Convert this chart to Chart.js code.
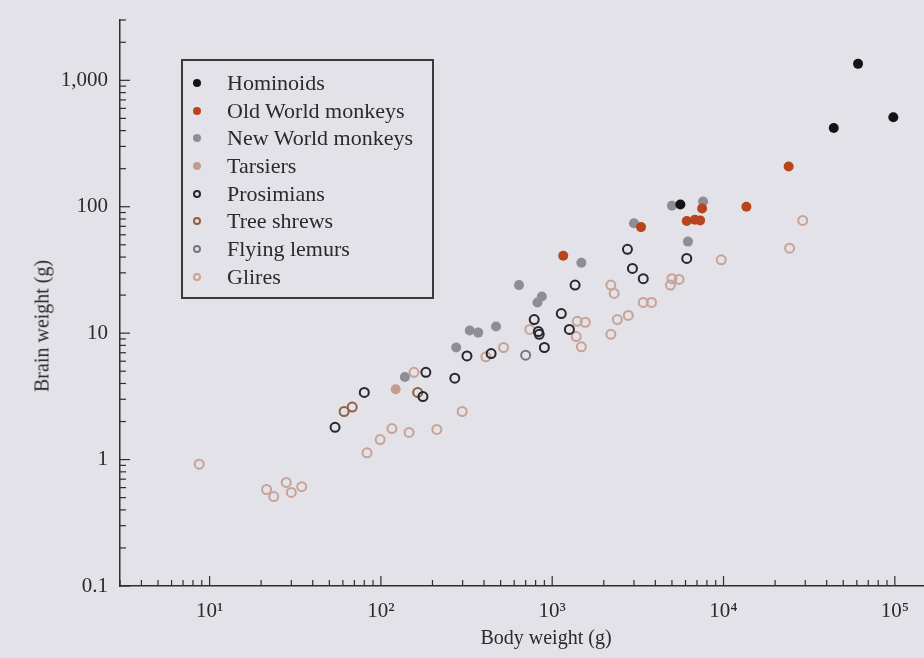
<!DOCTYPE html>
<html>
<head>
<meta charset="utf-8">
<script src="https://cdn.jsdelivr.net/npm/chart.js@4.4.1/dist/chart.umd.min.js"></script>
<style>
  body { margin: 0; background: #e3e2e9; overflow: hidden; }
  #wrap { position: relative; width: 924px; height: 658px; overflow: hidden; font-family: "Liberation Serif", serif; color: #2a2a2a; }
  #chartBox { position: absolute; left: 0; top: 0; width: 931px; height: 658px; }
  #legend { position: absolute; left: 181px; top: 59px; width: 253px; height: 240px; border: 2px solid #3a3a3a; box-sizing: border-box; padding-top: 8px; }
  .item { height: 27.7px; display: flex; align-items: center; font-size: 22px; }
  .dot { width: 8px; height: 8px; border-radius: 50%; margin-left: 10px; margin-right: 26px; box-sizing: border-box; flex: none; }
  .axtitle { position: absolute; font-size: 20px; white-space: nowrap; }
</style>
</head>
<body>
<div id="wrap">
  <div id="chartBox"><canvas id="brainChart"></canvas></div>
  <div id="legend"></div>
  <div class="axtitle" id="xTitle" style="left:546px; top:637px; transform:translate(-50%,-50%);">Body weight (g)</div>
  <div class="axtitle" id="yTitle" style="left:42px; top:326px; transform:translate(-50%,-50%) rotate(-90deg);">Brain weight (g)</div>
</div>
<script>
// [body weight g, brain weight g]
const hominoids = [[61000, 1350], [44000, 420], [98000, 510], [5600, 104]];
const oldWorld = [[24000, 208], [13600, 100], [6100, 77], [6800, 79], [7300, 78], [7500, 97], [3300, 69], [1160, 41]];
const newWorld = [[5000, 102], [7600, 110], [3000, 74], [6200, 53], [1480, 36], [640, 24], [870, 19.5], [820, 17.5],
  [470, 11.3], [330, 10.5], [370, 10.1], [275, 7.7], [138, 4.5]];
const tarsiers = [[122, 3.6]];
const prosimians = [[80, 3.4], [54, 1.8], [183, 4.9], [176, 3.15], [270, 4.4], [318, 6.6], [440, 6.9], [785, 12.8],
  [830, 10.3], [840, 9.8], [900, 7.7], [1130, 14.3], [1260, 10.7], [1360, 24], [2750, 46], [2940, 32.5], [3400, 27], [6100, 39]];
const treeShrews = [[68, 2.6], [61, 2.4], [164, 3.4]];
const flyingLemurs = [[700, 6.7]];
const glires = [[8.7, 0.92], [21.5, 0.58], [23.7, 0.51], [28, 0.66], [30, 0.55], [34.5, 0.61], [83, 1.13], [99, 1.44],
  [116, 1.76], [146, 1.64], [212, 1.73], [298, 2.4], [156, 4.9], [410, 6.5], [520, 7.7], [740, 10.7], [1400, 12.4],
  [1560, 12.2], [1380, 9.4], [1480, 7.8], [2200, 9.8], [2400, 12.8], [2780, 13.8], [2200, 24], [2300, 20.6], [3400, 17.5],
  [3800, 17.5], [5000, 27], [5500, 26.6], [4900, 24], [9700, 38], [24300, 47], [29000, 78]];

const groupNames = ['Hominoids', 'Old World monkeys', 'New World monkeys', 'Tarsiers', 'Prosimians', 'Tree shrews', 'Flying lemurs', 'Glires'];
const groupData = [hominoids, oldWorld, newWorld, tarsiers, prosimians, treeShrews, flyingLemurs, glires];
const groupColors = ['#141417', '#b8441c', '#8d8d95', '#c69b8f', '#26262c', '#8e6046', '#76767e', '#c6a395'];
const groupFilled = [true, true, true, true, false, false, false, false];

const xTickValues = [10, 100, 1000, 10000, 100000];
const xTickLabels = ['10\u00b9', '10\u00b2', '10\u00b3', '10\u2074', '10\u2075'];
const yTickValues = [0.1, 1, 10, 100, 1000];
const yTickLabels = ['0.1', '1', '10', '100', '1,000'];
const minorSteps = [2, 3, 4, 5, 6, 7, 8, 9];

const axisColor = '#2e2e2e';

// inward tick marks, as in the printed figure
const inwardTicks = {
  id: 'inwardTicks',
  afterDraw(chart) {
    const c = chart.ctx, area = chart.chartArea;
    const xs = chart.scales.x, ys = chart.scales.y;
    c.save();
    c.strokeStyle = axisColor;
    c.lineWidth = 1.2;
    function marks(scale, isX) {
      for (let d = -2; d <= 6; d++) {
        const base = Math.pow(10, d);
        [1].concat(minorSteps).forEach(m => {
          const v = m * base;
          if (v < scale.min * 0.999 || v > scale.max * 1.001) return;
          const p = scale.getPixelForValue(v);
          const len = m === 1 ? 10 : 6;
          c.beginPath();
          if (isX) { c.moveTo(p, area.bottom); c.lineTo(p, area.bottom - len); }
          else { c.moveTo(area.left, p); c.lineTo(area.left + len, p); }
          c.stroke();
        });
      }
    }
    marks(xs, true);
    marks(ys, false);
    c.restore();
  }
};

const datasets = groupNames.map((name, i) => ({
  label: name,
  data: groupData[i].map(p => ({ x: p[0], y: p[1] })),
  backgroundColor: groupFilled[i] ? groupColors[i] : 'rgba(0,0,0,0)',
  borderColor: groupColors[i],
  borderWidth: groupFilled[i] ? 0 : 2,
  pointRadius: groupFilled[i] ? 5 : 4.5,
  pointHoverRadius: 5
}));

let ctx = document.getElementById('brainChart').getContext('2d');
let brainChart = new Chart(ctx, {
  type: 'scatter',
  data: { datasets: datasets },
  plugins: [inwardTicks],
  options: {
    responsive: true,
    maintainAspectRatio: false,
    animation: false,
    layout: { padding: { top: 20, right: 0, left: 0, bottom: 0 } },
    plugins: { legend: { display: false }, tooltip: { enabled: false } },
    scales: {
      x: {
        type: 'logarithmic',
        min: 3,
        max: 148000,
        afterBuildTicks: s => { s.ticks = xTickValues.map(v => ({ value: v })); },
        afterFit: s => { s.height = 72; },
        grid: { display: false },
        border: { display: true, color: axisColor, width: 1.5 },
        ticks: {
          padding: 5,
          color: '#2a2a2a',
          font: { family: 'Liberation Serif', size: 21 },
          maxRotation: 0,
          autoSkip: false,
          callback: v => { const i = xTickValues.indexOf(v); return i >= 0 ? xTickLabels[i] : ''; }
        }
      },
      y: {
        type: 'logarithmic',
        min: 0.1,
        max: 3000,
        afterBuildTicks: s => { s.ticks = yTickValues.map(v => ({ value: v })); },
        afterFit: s => { s.width = 120; },
        grid: { display: false },
        border: { display: true, color: axisColor, width: 1.5 },
        ticks: {
          padding: 4,
          color: '#2a2a2a',
          font: { family: 'Liberation Serif', size: 21 },
          autoSkip: false,
          callback: v => { const i = yTickValues.indexOf(v); return i >= 0 ? yTickLabels[i] : ''; }
        }
      }
    }
  }
});

// legend box
const legendBox = document.getElementById('legend');
groupNames.forEach((name, i) => {
  const row = document.createElement('div');
  row.className = 'item';
  const dot = document.createElement('span');
  dot.className = 'dot';
  if (groupFilled[i]) dot.style.background = groupColors[i];
  else dot.style.border = '2px solid ' + groupColors[i];
  row.appendChild(dot);
  row.appendChild(document.createTextNode(name));
  legendBox.appendChild(row);
});
</script>
</body>
</html>
